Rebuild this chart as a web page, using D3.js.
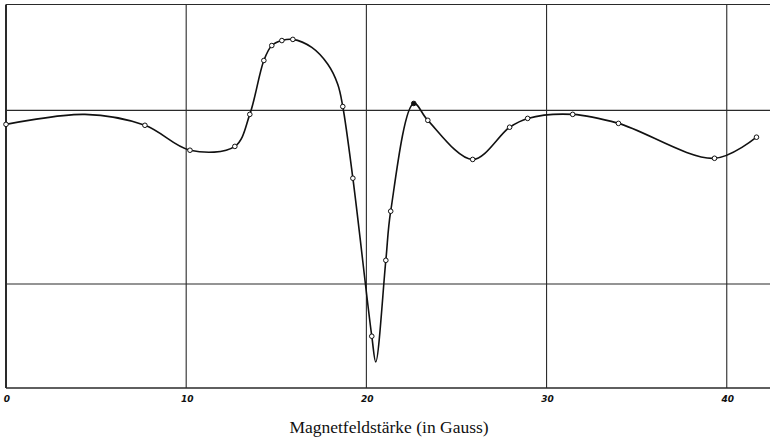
<!DOCTYPE html>
<html>
<head>
<meta charset="utf-8">
<script src="https://cdn.jsdelivr.net/npm/d3@7"></script>
<style>
  html, body { margin: 0; padding: 0; background: #fff; }
  svg { display: block; }
</style>
</head>
<body>
<script>
// Measured points (open circles); x in Gauss, y in arbitrary units
const pointX = [0, 7.71, 10.21, 12.70, 13.53, 14.31, 14.75, 15.31, 15.92, 18.69, 19.25, 20.30, 21.08, 21.35, 22.63, 23.41, 25.90, 27.95, 28.95, 31.45, 33.99, 39.32, 41.65];
const pointY = [68.75, 68.5, 62.0, 63.0, 71.35, 85.4, 89.3, 90.6, 90.9, 73.4, 54.7, 13.5, 33.3, 46.1, 74.2, 69.8, 59.6, 68.0, 70.3, 71.35, 69.0, 59.9, 65.4];
const pointFilled = [false, false, false, false, false, false, false, false, false, false, false, false, false, false, true, false, false, false, false, false, false, false, false];
// Drawn curve through the points (hand-drawn curve vertices)
const curveX = [0, 4.38, 7.71, 10.21, 12.70, 13.53, 14.31, 14.75, 15.31, 15.92, 16.97, 17.86, 18.41, 18.69, 19.25, 20.30, 20.52, 21.08, 21.35, 22.63, 23.41, 25.90, 27.95, 28.95, 31.45, 33.99, 39.32, 41.65];
const curveY = [68.75, 71.35, 68.5, 62.0, 63.0, 71.35, 85.4, 89.3, 90.6, 90.9, 88.8, 84.4, 79.2, 73.4, 54.7, 13.5, 6.8, 33.3, 46.1, 74.2, 69.8, 59.6, 68.0, 70.3, 71.35, 69.0, 59.9, 65.4];
const xTicks = [0, 10, 20, 30, 40];
const xTickLabels = ["0", "10", "20", "30", "40"];
const yGrid = [0, 27.1, 72.4, 100];
const xTitle = "Magnetfeldstärke (in Gauss)";

const W = 770, H = 444;
const svg = d3.select("body").append("svg").attr("width", W).attr("height", H);

const x = d3.scaleLinear().domain([0, 42.4]).range([6, 770]);
const y = d3.scaleLinear().domain([0, 100]).range([388, 4.5]);

// horizontal grid lines
svg.append("g").selectAll("line").data(yGrid).join("line")
  .attr("x1", x(0)).attr("x2", W)
  .attr("y1", d => y(d)).attr("y2", d => y(d))
  .attr("stroke", "#2a2a2a").attr("stroke-width", d => (d === 0 ? 1.4 : 1.1));

// vertical grid lines
svg.append("g").selectAll("line").data(xTicks).join("line")
  .attr("x1", d => x(d)).attr("x2", d => x(d))
  .attr("y1", y(100)).attr("y2", y(0))
  .attr("stroke", "#2a2a2a").attr("stroke-width", d => (d === 0 ? 2 : 1.1));

// tick labels
svg.append("g").selectAll("text").data(xTicks).join("text")
  .attr("x", d => x(d) + 1).attr("y", 402)
  .attr("text-anchor", "middle")
  .attr("font-family", "'DejaVu Sans', sans-serif")
  .attr("font-style", "italic")
  .attr("font-weight", "bold")
  .attr("font-size", 9)
  .attr("fill", "#111")
  .text((d, i) => xTickLabels[i]);

// axis title
svg.append("text")
  .attr("x", 389).attr("y", 433)
  .attr("text-anchor", "middle")
  .attr("font-family", "'Liberation Serif', serif")
  .attr("font-size", 17.5)
  .attr("fill", "#111")
  .text(xTitle);

// curve
const line = d3.line()
  .x(d => x(d[0])).y(d => y(d[1]))
  .curve(d3.curveCatmullRom.alpha(0.5));
svg.append("path")
  .datum(curveX.map((v, i) => [v, curveY[i]]))
  .attr("d", line)
  .attr("fill", "none")
  .attr("stroke", "#111")
  .attr("stroke-width", 1.6);

// markers
svg.append("g").selectAll("circle").data(pointX.map((v, i) => [v, pointY[i], pointFilled[i]])).join("circle")
  .attr("cx", d => x(d[0])).attr("cy", d => y(d[1]))
  .attr("r", 2.3)
  .attr("fill", d => (d[2] ? "#111" : "#fff"))
  .attr("stroke", "#111")
  .attr("stroke-width", 1);
</script>
</body>
</html>
